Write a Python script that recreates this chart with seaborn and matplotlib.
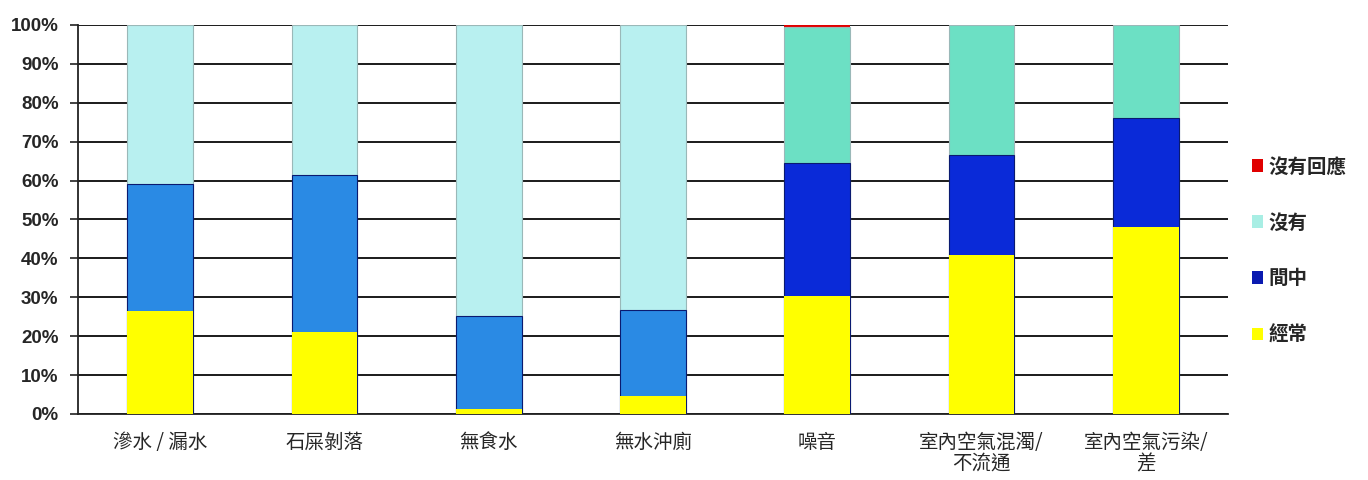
import matplotlib
matplotlib.use("Agg")
import matplotlib.pyplot as plt
import seaborn as sns
import numpy as np
from matplotlib.patches import Patch

categories = ["滲水 / 漏水", "石屎剝落", "無食水", "無水沖廁", "噪音",
              "室內空氣混濁/\n不流通", "室內空氣污染/\n差"]
often = [26.5, 21.1, 1.2, 4.5, 30.4, 41.0, 48.2]        # 經常
sometimes = [32.6, 40.3, 24.0, 22.2, 34.1, 25.7, 27.9]  # 間中
never = [40.9, 38.6, 74.8, 73.3, 34.9, 33.3, 23.9]      # 沒有
no_reply = [0.0, 0.0, 0.0, 0.0, 0.6, 0.0, 0.0]          # 沒有回應
series_labels = ["沒有回應", "沒有", "間中", "經常"]
yticklabels = ["0%", "10%", "20%", "30%", "40%", "50%", "60%", "70%", "80%", "90%", "100%"]

sns.set_theme(style="white")
plt.rcParams['font.family'] = ['Noto Sans CJK TC', 'DejaVu Sans']

fig = plt.figure(figsize=(13.68, 4.8), dpi=100)
ax = fig.add_axes([78/1368, 66/480, 1150/1368, 389/480])

c1 = np.array(often)
c2 = c1 + np.array(sometimes)
c3 = c2 + np.array(never)
c4 = c3 + np.array(no_reply)

red_pal = ["#E00000"] * 7
cyan_pal = ["#B8F0F0"] * 4 + ["#6CE0C4"] * 3
blue_pal = ["#2A8AE4"] * 4 + ["#0A2AD8"] * 3
yel_pal = ["#FFFF00"] * 7

layers = [(c4, red_pal, "none"), (c3, cyan_pal, "#9ab8b8"),
          (c2, blue_pal, "#0a1a70"), (c1, yel_pal, "none")]
for vals, pal, ec in layers:
    sns.barplot(x=categories, y=vals, hue=categories, palette=pal, legend=False,
                width=0.40, saturation=1, ax=ax, edgecolor=ec, linewidth=0.8,
                zorder=3)

ax.set_xlim(-0.5, 6.5)
ax.set_ylim(0, 100)
ax.set_yticks(np.arange(0, 101, 10))
ax.set_yticklabels(yticklabels, fontfamily="Liberation Sans", fontweight="bold", fontsize=13.5)
ax.yaxis.grid(True, color="#1a1a1a", linewidth=1.4, zorder=0)
ax.xaxis.grid(False)
ax.set_axisbelow(True)

ax.set_xticks(range(7))
ax.set_xticklabels(categories, fontsize=14, linespacing=1.0)
ax.set_xticks(np.arange(-0.5, 7, 1), minor=True)
ax.tick_params(axis="x", which="major", length=0, pad=13)
ax.tick_params(axis="x", which="minor", length=6, width=1.2, color="#222222", direction="out")
ax.tick_params(axis="y", which="major", length=6, width=1.2, color="#222222", direction="out", left=True, pad=8)
ax.set_xlabel("")
ax.set_ylabel("")

for s in ["top", "right"]:
    ax.spines[s].set_visible(False)
for s in ["left", "bottom"]:
    ax.spines[s].set_color("#222222")
    ax.spines[s].set_linewidth(1.3)

handles = [Patch(facecolor="#E00000", edgecolor="none"),
           Patch(facecolor="#A8EEE4", edgecolor="none"),
           Patch(facecolor="#0A1AB0", edgecolor="none"),
           Patch(facecolor="#FFFF00", edgecolor="none")]
fig.legend(handles, series_labels, loc="upper left", bbox_to_anchor=(1234/1368, 1 - 140/480),
           frameon=False, handlelength=0.6, handleheight=0.6, handletextpad=0.25,
           labelspacing=1.9, prop={"family": "Noto Sans CJK TC", "size": 14, "weight": "bold"})

fig.savefig("out.png", dpi=100)
